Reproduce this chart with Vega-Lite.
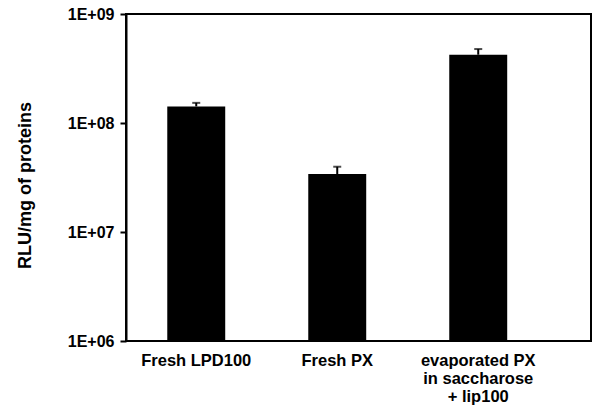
{
  "$schema": "https://vega.github.io/schema/vega-lite/v6.json",
  "width": 465,
  "height": 327,
  "autosize": {"type": "none"},
  "padding": {"left": 126, "top": 14, "right": 1, "bottom": 71},
  "background": "white",
  "config": {
    "view": {"stroke": "black", "strokeWidth": 2},
    "font": "Liberation Sans"
  },
  "data": {
    "values": [
      {"group": "Fresh LPD100", "value": 142000000, "upper": 153000000},
      {"group": "Fresh PX", "value": 34000000, "upper": 39700000},
      {"group": "evaporated PX|in saccharose|+ lip100", "value": 423000000, "upper": 477000000}
    ]
  },
  "encoding": {
    "x": {
      "field": "group",
      "type": "nominal",
      "sort": null,
      "scale": {"paddingInner": 0.589, "paddingOuter": 0.4435, "align": 0.33},
      "axis": {
        "title": null,
        "labelAngle": 0,
        "labelFont": "Liberation Sans",
        "labelFontWeight": "bold",
        "labelFontSize": 16.5,
        "labelColor": "black",
        "labelPadding": 11,
        "labelLineHeight": 18,
        "labelExpr": "split(datum.label, '|')",
        "ticks": false,
        "domain": false
      }
    }
  },
  "layer": [
    {
      "mark": {"type": "bar", "color": "black"},
      "encoding": {
        "y": {
          "field": "value",
          "type": "quantitative",
          "scale": {"type": "log", "domain": [1000000, 1000000000]},
          "axis": {
            "title": "RLU/mg of proteins",
            "titleFont": "Liberation Sans",
            "titleFontWeight": "bold",
            "titleFontSize": 18,
            "titleColor": "black",
            "titleX": -101,
            "titleY": 171,
            "titleAngle": -90,
            "titleAlign": "center",
            "titleBaseline": "middle",
            "values": [1000000, 10000000, 100000000, 1000000000],
            "labelExpr": "'1E+0' + round(log(datum.value) / LN10)",
            "labelFont": "Liberation Sans",
            "labelFontWeight": "bold",
            "labelFontSize": 16,
            "labelColor": "black",
            "labelPadding": 6,
            "tickColor": "black",
            "tickSize": 6,
            "tickWidth": 2,
            "domainColor": "black",
            "domainWidth": 2,
            "grid": false
          }
        },
        "y2": {"datum": 1000000}
      }
    },
    {
      "mark": {"type": "rule", "color": "black", "strokeWidth": 2},
      "encoding": {
        "y": {"field": "value", "type": "quantitative"},
        "y2": {"field": "upper"}
      }
    },
    {
      "mark": {"type": "tick", "color": "black", "size": 8, "thickness": 2},
      "encoding": {
        "y": {"field": "upper", "type": "quantitative"}
      }
    }
  ]
}
